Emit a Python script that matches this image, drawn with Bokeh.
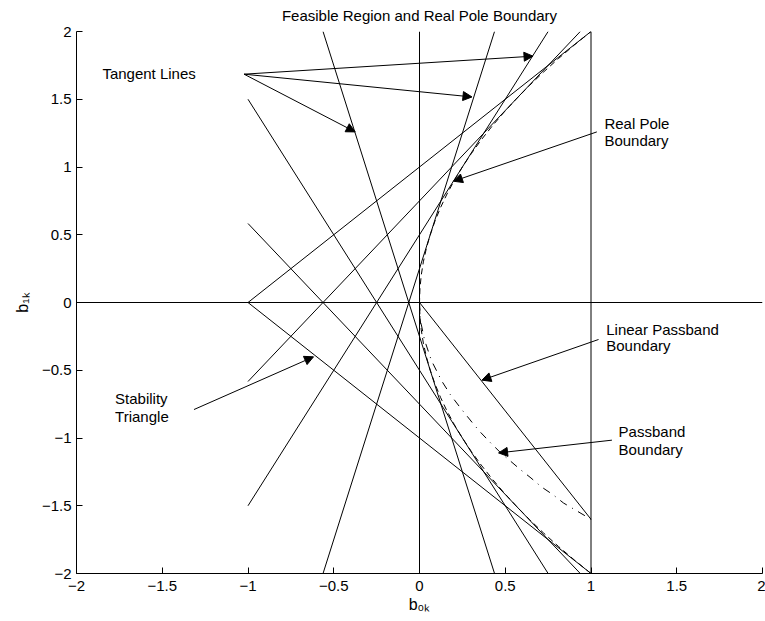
from bokeh.plotting import figure
from bokeh.models import Range1d, FixedTicker, Label, Arrow, NormalHead
from bokeh.embed import file_html
from bokeh.resources import INLINE

FONT = "Liberation Sans"

# tick values and labels
ticks = [-2, -1.5, -1, -0.5, 0, 0.5, 1, 1.5, 2]
tick_labels = ["\u22122", "\u22121.5", "\u22121", "\u22120.5", "0", "0.5", "1", "1.5", "2"]

TITLE = "Feasible Region and Real Pole Boundary"
XLABEL = "b\u2080\u2096"
YLABEL = "b\u2081\u2096"

# coordinate axes drawn through the origin
axis_x0 = [-2, 0]
axis_y0 = [0, -2]
axis_x1 = [2, 0]
axis_y1 = [0, 2]

# stability triangle edges
stab_x0 = [-1, -1, 1]
stab_y0 = [0, 0, 2]
stab_x1 = [1, 1, 1]
stab_y1 = [2, -2, -2]

# tangent lines to the real pole boundary
tan_x0 = [-0.5625, -1, -1, -0.5625, -1, -1]
tan_y0 = [-2, -1.5, -0.583, 2, 1.5, 0.583]
tan_x1 = [0.4375, 0.75, 0.9375, 0.4375, 0.75, 0.9375]
tan_y1 = [2, 2, 2, -2, -2, -2]

# linear passband boundary
lin_b0 = [0, 1]
lin_b1 = [0, -1.6]

# real pole boundary (dashed)
pole_b1 = [-2.0, -1.9, -1.8, -1.7, -1.6, -1.5, -1.4, -1.3, -1.2, -1.1, -1.0,
           -0.9, -0.8, -0.7, -0.6, -0.5, -0.4, -0.3, -0.2, -0.1, 0.0,
           0.1, 0.2, 0.3, 0.4, 0.5, 0.6, 0.7, 0.8, 0.9, 1.0,
           1.1, 1.2, 1.3, 1.4, 1.5, 1.6, 1.7, 1.8, 1.9, 2.0]
pole_b0 = [1.0, 0.9025, 0.81, 0.7225, 0.64, 0.5625, 0.49, 0.4225, 0.36, 0.3025, 0.25,
           0.2025, 0.16, 0.1225, 0.09, 0.0625, 0.04, 0.0225, 0.01, 0.0025, 0.0,
           0.0025, 0.01, 0.0225, 0.04, 0.0625, 0.09, 0.1225, 0.16, 0.2025, 0.25,
           0.3025, 0.36, 0.4225, 0.49, 0.5625, 0.64, 0.7225, 0.81, 0.9025, 1.0]

# passband boundary (dash-dot)
pass_b0 = [0.0, 0.005, 0.01, 0.03, 0.07, 0.13, 0.18, 0.24, 0.31, 0.35, 0.41, 0.47,
           0.53, 0.59, 0.65, 0.71, 0.78, 0.84, 0.92, 1.0]
pass_b1 = [0.0, -0.11, -0.16, -0.28, -0.43, -0.58, -0.68, -0.78, -0.89, -0.95, -1.03, -1.105,
           -1.17, -1.235, -1.295, -1.36, -1.42, -1.48, -1.54, -1.6]

p = figure(width=765, height=621, output_backend="svg", toolbar_location=None,
           x_range=Range1d(-2, 2), y_range=Range1d(-2, 2),
           min_border_left=76, min_border_right=3, min_border_top=31, min_border_bottom=48)
p.title.text = TITLE
p.title.align = "center"
p.title.vertical_align = "top"
p.title.text_font = FONT
p.title.text_font_size = "15px"
p.title.text_font_style = "normal"
p.title.text_color = "black"
p.title.standoff = 12
p.grid.visible = False
p.outline_line_color = None
p.background_fill_color = "white"
p.border_fill_color = "white"

for ax in (p.xaxis, p.yaxis):
    ax.ticker = FixedTicker(ticks=ticks)
    ax.major_label_overrides = dict(zip(ticks, tick_labels))
    ax.major_tick_in = 6
    ax.major_tick_out = 0
    ax.minor_tick_line_color = None
    ax.axis_line_color = "black"
    ax.major_tick_line_color = "black"
    ax.major_label_text_font = FONT
    ax.major_label_text_font_size = "15px"
    ax.major_label_text_color = "black"
    ax.axis_label_text_font = FONT
    ax.axis_label_text_font_size = "16px"
    ax.axis_label_text_font_style = "normal"
    ax.axis_label_text_color = "black"
p.xaxis.major_label_standoff = 7
p.yaxis.major_label_standoff = 5
p.xaxis.axis_label = XLABEL
p.yaxis.axis_label = YLABEL
p.xaxis.axis_label_standoff = 2
p.yaxis.axis_label_standoff = 8

LW = 1
p.segment(axis_x0, axis_y0, axis_x1, axis_y1, line_color="black", line_width=LW)
p.segment(stab_x0, stab_y0, stab_x1, stab_y1, line_color="black", line_width=LW)
p.segment(tan_x0, tan_y0, tan_x1, tan_y1, line_color="black", line_width=LW)
p.line(lin_b0, lin_b1, line_color="black", line_width=LW)
p.line(pole_b0, pole_b1, line_color="black", line_width=LW, line_dash="6 4")
p.line(pass_b0, pass_b1, line_color="black", line_width=LW, line_dash="8 6 1 6")

def arrow(xs, ys, xe, ye):
    p.add_layout(Arrow(end=NormalHead(size=9, fill_color="black", line_color="black", line_width=1),
                       x_start=xs, y_start=ys, x_end=xe, y_end=ye,
                       line_color="black", line_width=1))

def label(x, y, txt):
    p.add_layout(Label(x=x, y=y, text=txt, text_font=FONT, text_font_size="15px",
                       text_color="black", text_align="left", text_baseline="middle"))

# annotations
label(-1.849, 1.692, "Tangent Lines")
arrow(-1.023, 1.685, 0.662, 1.818)
arrow(-1.023, 1.685, 0.306, 1.517)
arrow(-1.023, 1.685, -0.375, 1.259)

label(1.078, 1.321, "Real Pole")
label(1.078, 1.193, "Boundary")
arrow(1.034, 1.259, 0.198, 0.895)

label(1.089, -0.197, "Linear Passband")
label(1.089, -0.315, "Boundary")
arrow(1.044, -0.273, 0.364, -0.573)

label(1.161, -0.955, "Passband")
label(1.161, -1.083, "Boundary")
arrow(1.122, -1.016, 0.461, -1.110)

label(-1.775, -0.708, "Stability")
label(-1.775, -0.839, "Triangle")
arrow(-1.315, -0.790, -0.618, -0.401)

open("out.html", "w").write(file_html(p, INLINE))
